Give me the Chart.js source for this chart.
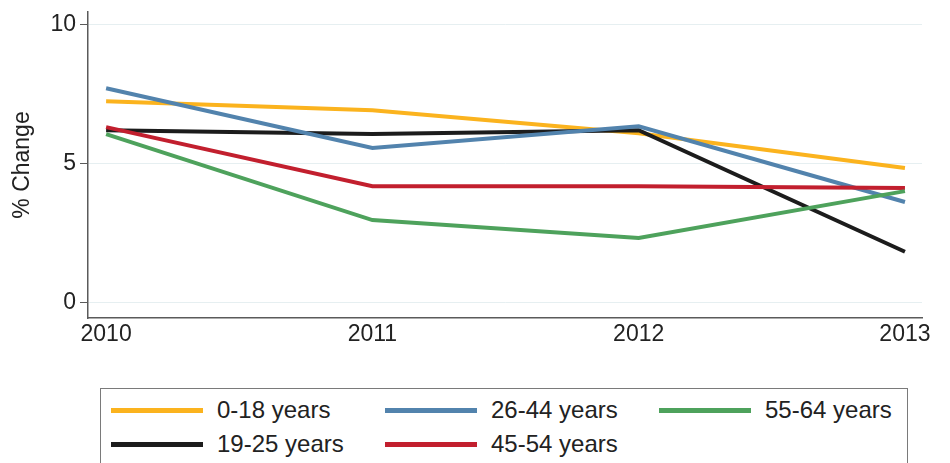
<!DOCTYPE html>
<html>
<head>
<meta charset="utf-8">
<script src="https://cdn.jsdelivr.net/npm/chart.js@4"></script>
<style>
    body { margin: 0; background: #fff; width: 950px; height: 463px; overflow: hidden; font-family: "Liberation Sans", Arial, sans-serif; }
    #chartBox { position: absolute; left: 0; top: 0; width: 950px; height: 350px; }
    #legend {
        position: absolute; left: 100px; top: 388px; width: 808px; height: 100px;
        border: 1.5px solid #7a7a7a; box-sizing: border-box;
    }
    .leg-item { position: absolute; display: flex; align-items: center; height: 30px; }
    .leg-line { width: 92px; height: 5px; margin-right: 14px; }
    .leg-text { font-size: 24px; color: #222; white-space: nowrap; }
</style>
</head>
<body>
<div id="chartBox"><canvas id="pctChart"></canvas></div>
<div id="legend"></div>

<script>
// data
const years = [2010, 2011, 2012, 2013];
const yTicks = [0, 5, 10];
const seriesNames = ['0-18 years', '19-25 years', '26-44 years', '45-54 years', '55-64 years'];
const age0to18 = [7.24, 6.92, 6.09, 4.84];
const age19to25 = [6.2, 6.06, 6.2, 1.83];
const age26to44 = [7.71, 5.56, 6.34, 3.62];
const age45to54 = [6.31, 4.19, 4.19, 4.12];
const age55to64 = [6.06, 2.97, 2.33, 4.01];
const seriesValues = [age0to18, age19to25, age26to44, age45to54, age55to64];
const seriesColors = ['#FBB31E', '#1c1c1c', '#5283AD', '#C21F2E', '#4EA25C'];

const textColor = '#222';
const fontFamily = '"Liberation Sans", Arial, sans-serif';

const datasets = seriesNames.map((name, i) => ({
    label: name,
    data: years.map((yr, j) => ({ x: yr, y: seriesValues[i][j] })),
    borderColor: seriesColors[i],
    backgroundColor: seriesColors[i],
    borderWidth: 4,
    pointRadius: 0,
    tension: 0,
    // later series drawn on top, like the original
    order: seriesNames.length - i
}));

const ctx = document.getElementById('pctChart').getContext('2d');
const chart = new Chart(ctx, {
    type: 'line',
    data: { datasets: datasets },
    options: {
        responsive: true,
        maintainAspectRatio: false,
        animation: false,
        layout: { padding: { top: 12, right: 28, left: 0, bottom: 0 } },
        plugins: { legend: { display: false }, tooltip: { enabled: false } },
        scales: {
            x: {
                type: 'linear',
                min: 2009.932,
                max: 2013.064,
                afterBuildTicks: s => { s.ticks = years.map(v => ({ value: v })); },
                afterFit: s => { s.height = 32; },
                grid: { display: true, drawOnChartArea: false, drawTicks: false },
                border: { display: true, color: '#5a5a5a', width: 1.5 },
                ticks: {
                    padding: 3,
                    color: textColor,
                    font: { family: fontFamily, size: 23 },
                    maxRotation: 0,
                    callback: v => String(v)
                }
            },
            y: {
                min: -0.55,
                max: 10.45,
                afterBuildTicks: s => { s.ticks = yTicks.map(v => ({ value: v })); },
                afterFit: s => { s.width = 88; s.paddingTop = 0; s.paddingBottom = 0; },
                grid: { color: '#e6eff1', lineWidth: 1, tickColor: '#5a5a5a', tickLength: 8 },
                border: { display: true, color: '#5a5a5a', width: 1.5 },
                ticks: {
                    padding: 4,
                    color: textColor,
                    font: { family: fontFamily, size: 23 }
                },
                title: {
                    display: true,
                    text: '% Change',
                    color: textColor,
                    font: { family: fontFamily, size: 23 },
                    padding: { top: 9, bottom: 0 }
                }
            }
        }
    }
});

// legend box, filled column by column (2 rows)
const legendBox = document.getElementById('legend');
chart.data.datasets.forEach((ds, i) => {
    const col = Math.floor(i / 2);
    const row = i % 2;
    const item = document.createElement('div');
    item.className = 'leg-item';
    item.style.left = (10 + col * 274) + 'px';
    item.style.top = (6 + row * 34) + 'px';
    item.innerHTML = `<div class="leg-line" style="background:${ds.borderColor}"></div>
        <span class="leg-text">${ds.label}</span>`;
    legendBox.appendChild(item);
});
</script>
</body>
</html>
